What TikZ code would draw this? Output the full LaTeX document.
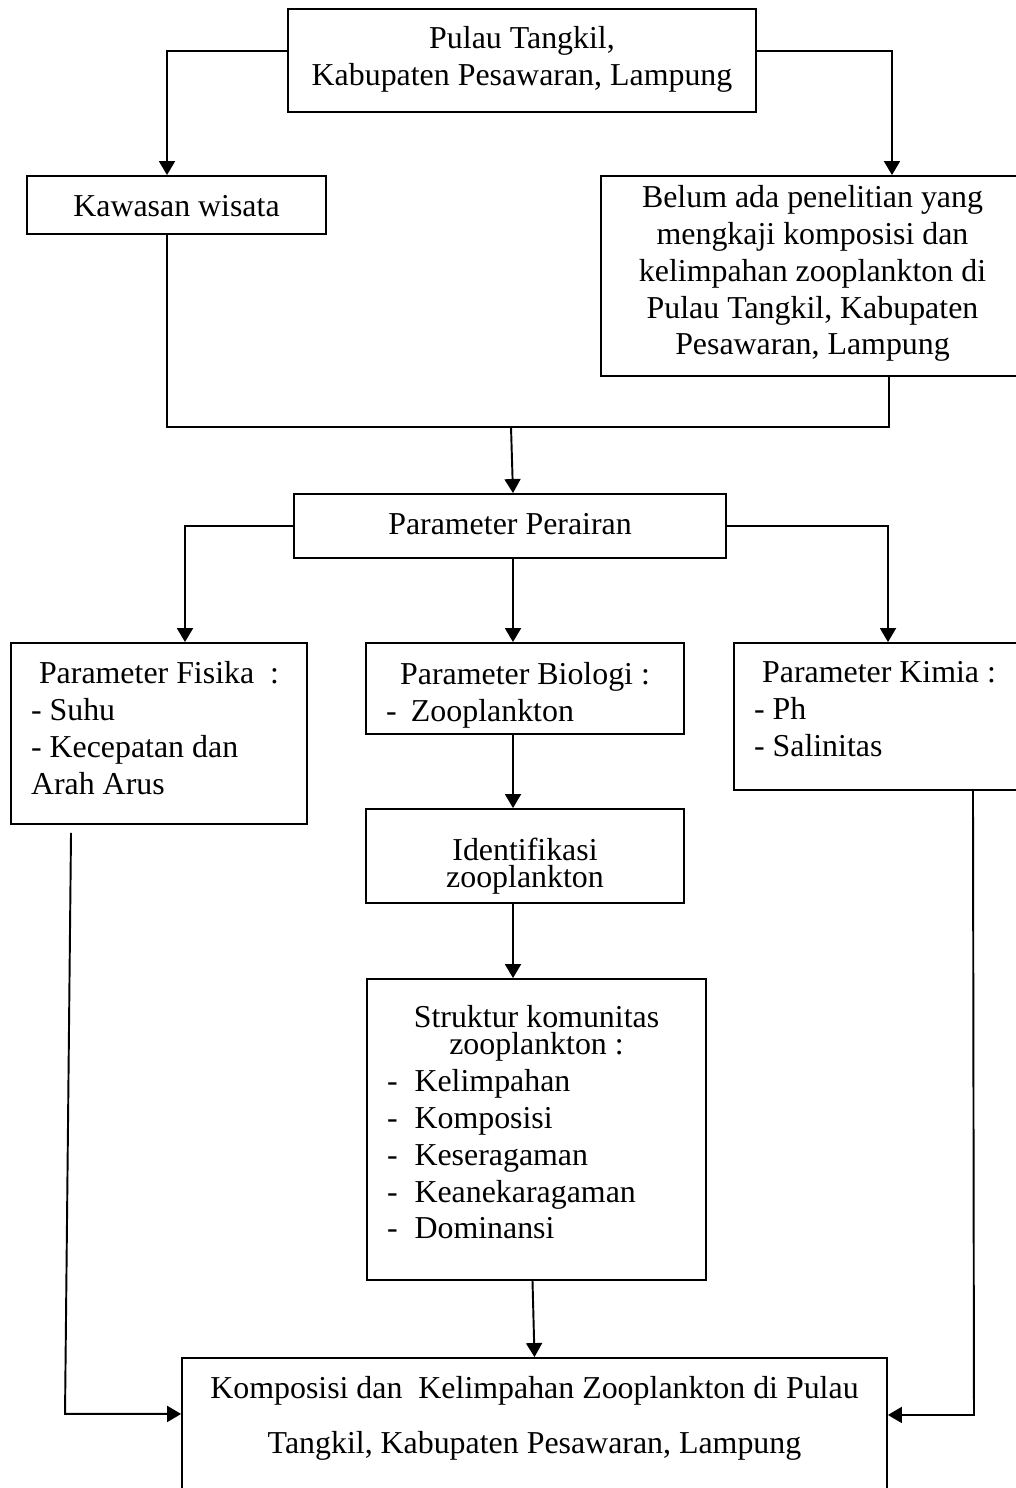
\documentclass[tikz,border=0pt]{standalone}
\usepackage{fontspec}
\setmainfont{Liberation Serif}
\usetikzlibrary{arrows.meta,calc}
% box body: width, height, top gap, text
\long\def\cellbox#1#2#3#4{\parbox[c][#2][t]{#1}{\vspace*{#3}#4}}

\tikzset{
	box/.style={draw, line width=1.1pt, inner sep=0pt, font=\fontsize{18.15}{21}\selectfont},
	link/.style={line width=1.1pt},
	arr/.style={line width=1.1pt, -{Triangle[length=0.28cm, width=0.32cm]}}
}

\begin{document}
\begin{tikzpicture}[x=0.02cm, y=-0.02cm]
				\useasboundingbox (0,0) rectangle (1015,1488);
				
				% top
				\node[box] (pulau) at (522,60.5) {\cellbox{9.36cm}{2.06cm}{0.344cm}{\centering Pulau Tangkil,\\ Kabupaten Pesawaran, Lampung}};
				\node[box] (kawasan) at (176.5,205) {\cellbox{5.98cm}{1.16cm}{0.384cm}{\centering Kawasan wisata}};
				\node[box] (belum) at (812.5,276) {\cellbox{8.46cm}{4cm}{0.184cm}{\centering Belum ada penelitian yang\\ mengkaji komposisi dan\\ kelimpahan zooplankton di\\ Pulau Tangkil, Kabupaten\\ Pesawaran, Lampung}};
				
				% parameter
				\node[box] (perairan) at (510,526) {\cellbox{8.64cm}{1.28cm}{0.384cm}{\centering Parameter Perairan}};
				\node[box] (fisika) at (159,733.5) {\cellbox{5.92cm}{3.62cm}{0.364cm}{\centering Parameter Fisika\ \ :\par\raggedright\leftskip=0.4cm - Suhu\\ - Kecepatan dan\\ Arah Arus}};
				\node[box] (biologi) at (525,688.5) {\cellbox{6.36cm}{1.82cm}{0.384cm}{\centering Parameter Biologi :\par\raggedright\leftskip=0.4cm -\hspace{0.45em}Zooplankton}};
				\node[box] (kimia) at (879,716.5) {\cellbox{5.8cm}{2.94cm}{0.364cm}{\centering Parameter Kimia :\par\raggedright\leftskip=0.4cm - Ph\\ - Salinitas}};
				
				% biologi chain
				\node[box] (identifikasi) at (525,856) {\cellbox{6.36cm}{1.88cm}{0.584cm}{\centering\fontsize{18.15}{15.4}\selectfont Identifikasi\\ zooplankton}};
				\node[box] (struktur) at (536.5,1129.5) {\cellbox{6.78cm}{6.02cm}{0.524cm}{\centering\fontsize{18.15}{15.4}\selectfont Struktur komunitas\\ zooplankton :\par\fontsize{18.15}{21}\selectfont\raggedright\leftskip=0.4cm -\hspace{0.53em}Kelimpahan\\ -\hspace{0.53em}Komposisi\\ -\hspace{0.53em}Keseragaman\\ -\hspace{0.53em}Keanekaragaman\\ -\hspace{0.53em}Dominansi}};
				
				% result
				\node[box] (komposisi) at (534.5,1428) {\cellbox{14.1cm}{2.8cm}{0.364cm}{\centering\fontsize{18.15}{31.3}\selectfont Komposisi dan\ \ Kelimpahan Zooplankton di Pulau\\ Tangkil, Kabupaten Pesawaran, Lampung}};
				
				\coordinate (merge) at (511,427);
				
				\draw[arr] ([yshift=0.19cm]pulau.west) -| ([xshift=-0.19cm]kawasan.north);
				\draw[arr] ([yshift=0.19cm]pulau.east) -| ([xshift=1.59cm]belum.north);
				\draw[link] ([xshift=-0.19cm]kawasan.south) |- (merge) -| ([xshift=1.53cm]belum.south);
				\draw[arr] (merge) -- ([xshift=0.06cm]perairan.north);
				
				\draw[arr] (perairan.west) -| ([xshift=0.52cm]fisika.north);
				\draw[arr] ([xshift=0.06cm]perairan.south) -- ([xshift=0.06cm]perairan.south |- biologi.north);
				\draw[arr] (perairan.east) -| ([xshift=0.18cm]kimia.north);
				
				\draw[arr] ([xshift=-0.24cm]biologi.south) -- ([xshift=-0.24cm]identifikasi.north);
				\draw[arr] ([xshift=-0.24cm]identifikasi.south) -- ([xshift=-0.24cm]identifikasi.south |- struktur.north);
				\draw[arr] ([xshift=-0.08cm]struktur.south) -- (komposisi.north);
				
				\draw[arr] ([xshift=-1.76cm,yshift=-0.16cm]fisika.south) -- ++(-6,581) coordinate (fisbend) -- (fisbend -| komposisi.west);
				\draw[arr] ([xshift=1.88cm]kimia.south) -- ++(1,624) coordinate (kimbend) -- (kimbend -| komposisi.east);
\end{tikzpicture}
\end{document}
